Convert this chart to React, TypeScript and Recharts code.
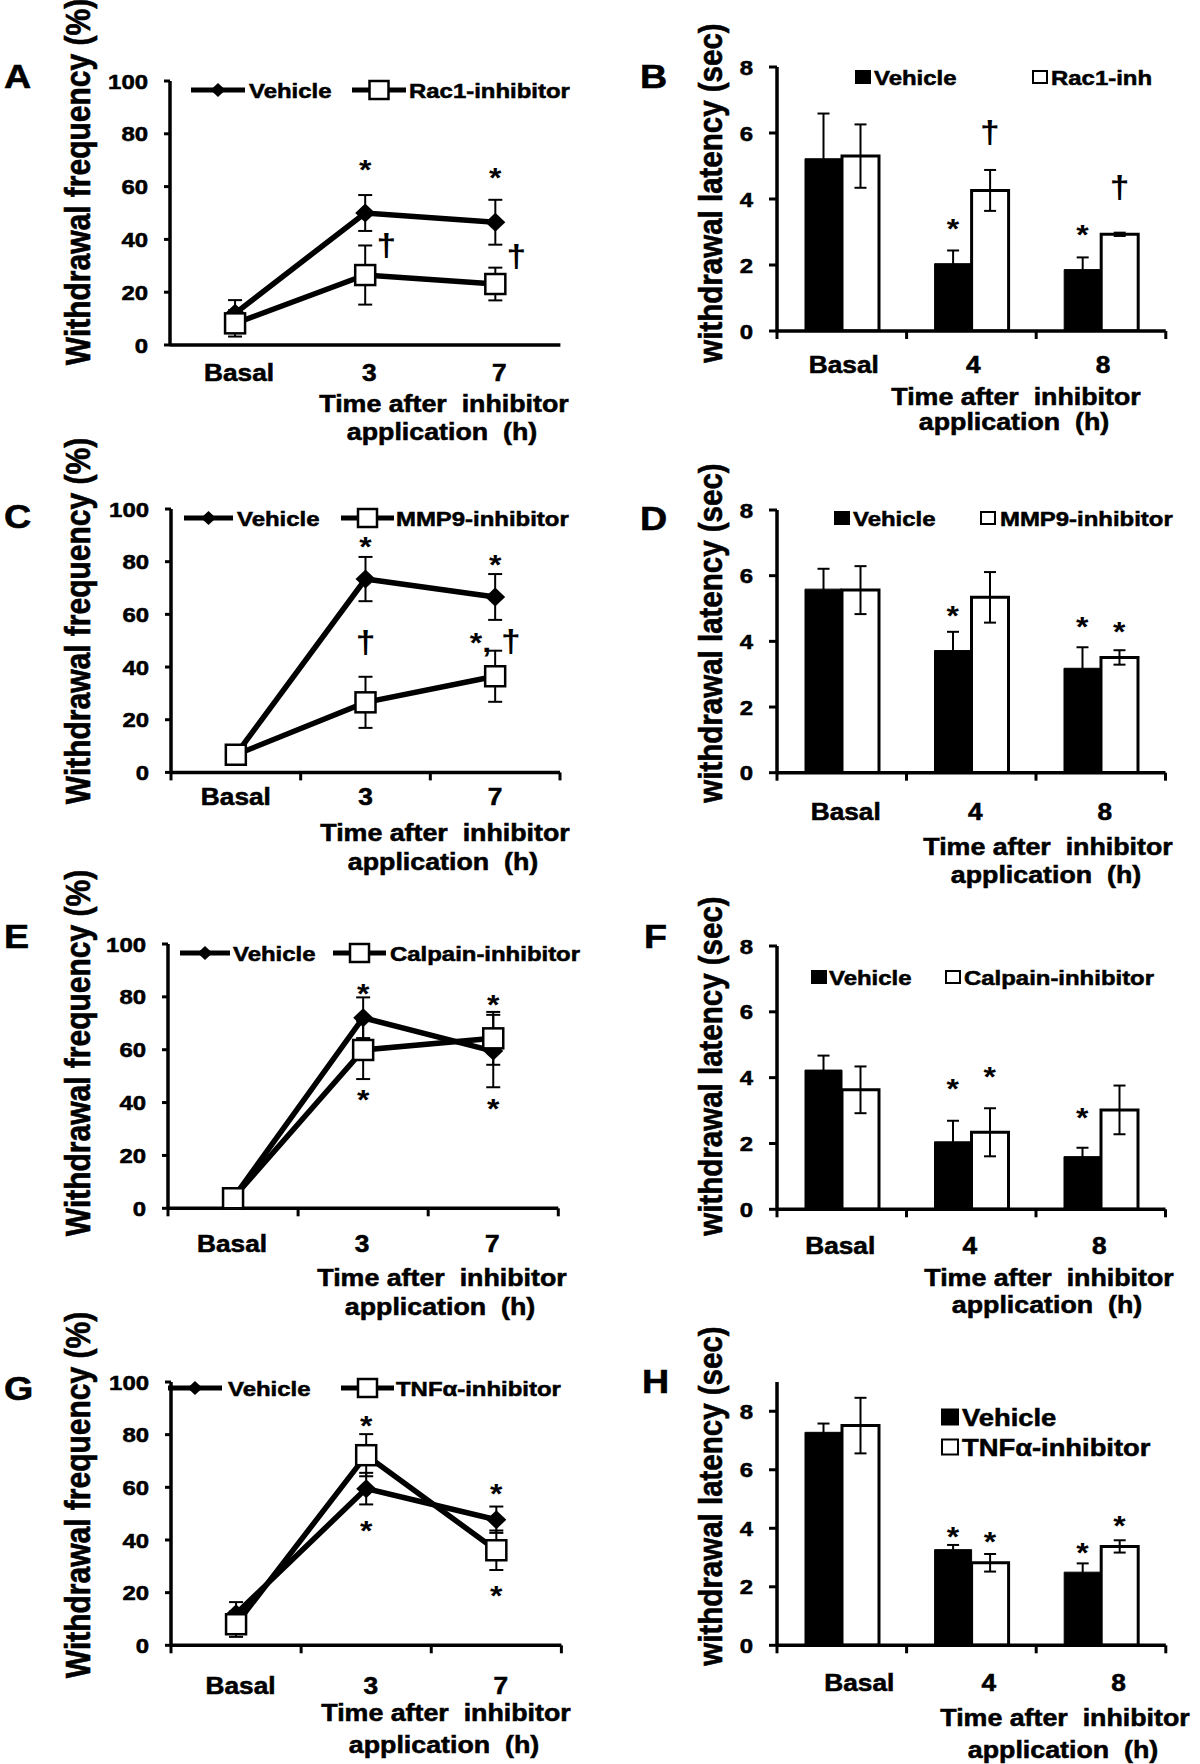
import { LineChart, Line, BarChart, Bar, XAxis, YAxis, ErrorBar, ReferenceDot } from "recharts";

const FONT = "'Liberation Sans', Arial, Helvetica, sans-serif";
const SX = 1.14; // source figure text is stretched sideways
const INK = "#000";
const heavy = { stroke: INK, strokeWidth: 0.55 };

// categories
const freqTimes = ["Basal", "3", "7"];
const latTimes = ["Basal", "4", "8"];

// legend names
const rac1Names = ["Vehicle", "Rac1-inhibitor"];
const rac1ShortNames = ["Vehicle", "Rac1-inh"];
const mmp9Names = ["Vehicle", "MMP9-inhibitor"];
const calpainNames = ["Vehicle", "Calpain-inhibitor"];
const tnfNames = ["Vehicle", "TNFα-inhibitor"];

// A - Rac1, withdrawal frequency (%)
const aVehicle = [12, 50, 46.5];
const aVehicleSem = [5, 6.8, 8.5];
const aInhib = [8.2, 26.5, 23.1];
const aInhibSem = [5, 11.2, 6.2];
const aMarks = [
  { time: "3", value: 69, mark: "*", at: "mid" },
  { time: "7", value: 66, mark: "*", at: "mid" },
  { time: "3", value: 37, mark: "†", at: "right" },
  { time: "7", value: 33, mark: "†", at: "right" },
];

// B - Rac1, withdrawal latency (sec)
const bVehicle = [5.22, 2.04, 1.86];
const bVehicleSem = [1.37, 0.4, 0.37];
const bInhib = [5.3, 4.26, 2.93];
const bInhibSem = [0.96, 0.62, 0.05];
const bMarks = [
  { time: "4", value: 3.3, mark: "*", at: "veh" },
  { time: "4", value: 5.96, mark: "†", at: "inh" },
  { time: "8", value: 3.11, mark: "*", at: "veh" },
  { time: "8", value: 4.29, mark: "†", at: "inh" },
];

// C - MMP9, withdrawal frequency (%)
const cVehicle = [6.7, 73.4, 66.6];
const cVehicleSem = [3, 8.4, 8.7];
const cInhib = [6.7, 26.6, 36.5];
const cInhibSem = [3.5, 9.7, 9.7];
const cMarks = [
  { time: "3", value: 88.4, mark: "*", at: "mid" },
  { time: "7", value: 81.4, mark: "*", at: "mid" },
  { time: "3", value: 48.5, mark: "†", at: "mid" },
  { time: "7", value: 49, mark: "*, †", at: "mid" },
];

// D - MMP9, withdrawal latency (sec)
const dVehicle = [5.59, 3.72, 3.18];
const dVehicleSem = [0.62, 0.57, 0.64];
const dInhib = [5.56, 5.34, 3.51];
const dInhibSem = [0.73, 0.77, 0.22];
const dMarks = [
  { time: "4", value: 5.0, mark: "*", at: "veh" },
  { time: "8", value: 4.65, mark: "*", at: "veh" },
  { time: "8", value: 4.5, mark: "*", at: "inh" },
];

// E - Calpain, withdrawal frequency (%)
const eVehicle = [3.8, 72.1, 59.5];
const eVehicleSem = [2, 7.7, 13.7];
const eInhib = [3.8, 59.9, 64.3];
const eInhibSem = [2, 11, 10];
const eMarks = [
  { time: "3", value: 83.8, mark: "*", at: "mid" },
  { time: "3", value: 43.5, mark: "*", at: "mid" },
  { time: "7", value: 79.5, mark: "*", at: "mid" },
  { time: "7", value: 40.3, mark: "*", at: "mid" },
];

// F - Calpain, withdrawal latency (sec)
const fVehicle = [4.23, 2.05, 1.6];
const fVehicleSem = [0.44, 0.64, 0.27];
const fInhib = [3.63, 2.34, 3.02];
const fInhibSem = [0.71, 0.73, 0.74];
const fMarks = [
  { time: "4", value: 3.88, mark: "*", at: "veh" },
  { time: "4", value: 4.23, mark: "*", at: "inh" },
  { time: "8", value: 3.0, mark: "*", at: "veh" },
];

// G - TNFa, withdrawal frequency (%)
const gVehicle = [12, 59.5, 47.7];
const gVehicleSem = [4.4, 6, 5];
const gInhib = [8, 72.2, 36.1];
const gInhibSem = [4.8, 8, 7.5];
const gMarks = [
  { time: "3", value: 86, mark: "*", at: "mid" },
  { time: "3", value: 46.2, mark: "*", at: "mid" },
  { time: "7", value: 60.1, mark: "*", at: "mid" },
  { time: "7", value: 21.5, mark: "*", at: "mid" },
];

// H - TNFa, withdrawal latency (sec)
const hVehicle = [7.28, 3.27, 2.5];
const hVehicleSem = [0.3, 0.16, 0.3];
const hInhib = [7.51, 2.82, 3.38];
const hInhibSem = [0.95, 0.3, 0.21];
const hMarks = [
  { time: "4", value: 3.93, mark: "*", at: "veh" },
  { time: "4", value: 3.76, mark: "*", at: "inh" },
  { time: "8", value: 3.41, mark: "*", at: "veh" },
  { time: "8", value: 4.33, mark: "*", at: "inh" },
];

const freqTicks = [0, 20, 40, 60, 80, 100];
const latTicks = [0, 2, 4, 6, 8];

function toRows(times, veh, vehErr, inh, inhErr) {
  return times.map((t, i) => ({ time: t, veh: veh[i], vehErr: vehErr[i], inh: inh[i], inhErr: inhErr[i] }));
}

// chart frame around the plot area
const ML = 90;
const MT = 30;
const MR = 30;
const MB = 70;
const BAR = 37;

function YTick(props) {
  const { x, y, payload } = props;
  return (
    <text transform={`translate(${x},${y}) scale(${SX},1)`} textAnchor="end" dy="0.36em"
      fontFamily={FONT} fontWeight="bold" fontSize={21} fill={INK} {...heavy}>
      {payload.value}
    </text>
  );
}

function XTick(props) {
  const { x, y, payload, index, band, count, showTicks, dx, dy } = props;
  return (
    <g>
      {showTicks && <line x1={x - band / 2} x2={x - band / 2} y1={y} y2={y + 8} stroke={INK} strokeWidth={3} />}
      {showTicks && index === count - 1 && (
        <line x1={x + band / 2} x2={x + band / 2} y1={y} y2={y + 8} stroke={INK} strokeWidth={3} />
      )}
      <text transform={`translate(${x + dx},${y + dy}) scale(${SX},1)`} textAnchor="middle" dy="0.36em"
        fontFamily={FONT} fontWeight="bold" fontSize={23} fill={INK} {...heavy}>
        {payload.value}
      </text>
    </g>
  );
}

function Mark({ cx, cy, mark }) {
  if (mark === "*") {
    return (
      <text transform={`translate(${cx},${cy + 0.575 * 28}) scale(${SX},1)`} textAnchor="middle"
        fontFamily={FONT} fontWeight="bold" fontSize={28} fill={INK}>*</text>
    );
  }
  if (mark === "†") {
    return (
      <text transform={`translate(${cx},${cy + 0.285 * 31}) scale(${SX},1)`} textAnchor="middle"
        fontFamily={FONT} fontWeight="bold" fontSize={31} fill={INK}>†</text>
    );
  }
  return (
    <text transform={`translate(${cx},${cy + 0.285 * 31}) scale(${SX},1)`} textAnchor="middle"
      fontFamily={FONT} fontWeight="bold" fontSize={31} fill={INK}>
      <tspan fontSize={28}>*,</tspan>
      <tspan>{"\u00a0†"}</tspan>
    </text>
  );
}

function diamondDot(p) {
  const { cx, cy, index } = p;
  return <path key={`d${index}`} d={`M${cx},${cy - 9.5} L${cx + 10},${cy} L${cx},${cy + 9.5} L${cx - 10},${cy} Z`} fill={INK} />;
}

function squareDot(p) {
  const { cx, cy, index } = p;
  return <rect key={`s${index}`} x={cx - 10} y={cy - 10} width={20} height={20} fill="#fff" stroke={INK} strokeWidth={2.5} />;
}

const axisStyle = { stroke: INK, strokeWidth: 3.5 };

function LinePanel({ rows, marks, box, showTicks = true, tickDx = 0, tickDy = 28 }) {
  const w = box.r - box.l;
  const h = box.b - box.t;
  const band = w / rows.length;
  return (
    <div style={{ position: "absolute", left: box.l - ML, top: box.t - MT }}>
      <LineChart width={w + ML + MR} height={h + MT + MB} data={rows} margin={{ top: MT, right: MR, bottom: 0, left: 0 }}>
        <XAxis dataKey="time" height={MB} interval={0} padding={{ left: band / 2, right: band / 2 }}
          tickLine={false} tickSize={0} tickMargin={0} axisLine={axisStyle}
          tick={(p) => <XTick {...p} band={band} count={rows.length} showTicks={showTicks} dx={tickDx} dy={tickDy} />} />
        <YAxis domain={[0, 100]} ticks={freqTicks} width={ML} allowDataOverflow interval={0}
          tickSize={6} tickMargin={16} tickLine={{ stroke: INK, strokeWidth: 3 }} axisLine={axisStyle} tick={YTick} />
        <Line dataKey="veh" type="linear" stroke={INK} strokeWidth={5.5} dot={diamondDot} activeDot={false} isAnimationActive={false}>
          <ErrorBar dataKey="vehErr" direction="y" width={7} stroke={INK} strokeWidth={2} isAnimationActive={false} />
        </Line>
        <Line dataKey="inh" type="linear" stroke={INK} strokeWidth={5.5} dot={squareDot} activeDot={false} isAnimationActive={false}>
          <ErrorBar dataKey="inhErr" direction="y" width={7} stroke={INK} strokeWidth={2} isAnimationActive={false} />
        </Line>
        {marks.map((m, i) => (
          <ReferenceDot key={i} x={m.time} y={m.value} r={0} ifOverflow="visible"
            shape={(p) => <Mark cx={p.cx + (m.at === "right" ? 21 : 0)} cy={p.cy} mark={m.mark} />} />
        ))}
      </LineChart>
    </div>
  );
}

function BarPanel({ rows, marks, box, yMax = 8, tickDx = 0, tickDy = 34 }) {
  const w = box.r - box.l;
  const h = box.b - box.t;
  const band = w / rows.length;
  return (
    <div style={{ position: "absolute", left: box.l - ML, top: box.t - MT }}>
      <BarChart width={w + ML + MR} height={h + MT + MB} data={rows} margin={{ top: MT, right: MR, bottom: 0, left: 0 }}
        barGap={0} barSize={BAR}>
        <XAxis dataKey="time" height={MB} interval={0} tickLine={false} tickSize={0} tickMargin={0} axisLine={axisStyle}
          tick={(p) => <XTick {...p} band={band} count={rows.length} showTicks dx={tickDx} dy={tickDy} />} />
        <YAxis domain={[0, yMax]} ticks={latTicks} width={ML} allowDataOverflow interval={0}
          tickSize={8} tickMargin={16} tickLine={{ stroke: INK, strokeWidth: 3 }} axisLine={axisStyle} tick={YTick} />
        <Bar dataKey="veh" fill={INK} stroke={INK} strokeWidth={1} isAnimationActive={false}>
          <ErrorBar dataKey="vehErr" direction="y" width={6} stroke={INK} strokeWidth={2} isAnimationActive={false} />
        </Bar>
        <Bar dataKey="inh" fill="#fff" stroke={INK} strokeWidth={3} isAnimationActive={false}>
          <ErrorBar dataKey="inhErr" direction="y" width={6} stroke={INK} strokeWidth={2} isAnimationActive={false} />
        </Bar>
        {marks.map((m, i) => (
          <ReferenceDot key={i} x={m.time} y={m.value} r={0} ifOverflow="visible"
            shape={(p) => <Mark cx={p.cx + (m.at === "veh" ? -BAR / 2 : BAR / 2)} cy={p.cy} mark={m.mark} />} />
        ))}
      </BarChart>
    </div>
  );
}

// overlay pieces: panel letters, axis titles, legends
function Letter({ x, y, ch }) {
  return (
    <text transform={`translate(${x},${y}) scale(${SX},1)`} fontSize={33} fontWeight="bold" {...heavy}>{ch}</text>
  );
}

function YTitle({ x, y, text, size = 30 }) {
  return (
    <text transform={`translate(${x},${y}) rotate(-90) scale(1,${SX})`} textAnchor="middle" fontSize={size}
      fontWeight="bold" {...heavy}>
      {text}
    </text>
  );
}

function XTitle({ cx, y1, y2 }) {
  const fs = 23.5;
  return (
    <g fontSize={fs} fontWeight="bold" {...heavy}>
      <text transform={`translate(${cx},${y1 + 0.36 * fs}) scale(${SX},1)`} textAnchor="middle">{"Time after\u00a0 inhibitor"}</text>
      <text transform={`translate(${cx - 2},${y2 + 0.36 * fs}) scale(${SX},1)`} textAnchor="middle">{"application\u00a0 (h)"}</text>
    </g>
  );
}

function LineLegend({ y, names, spots }) {
  return (
    <g>
      {spots.map(([x1, x2, tx], i) => {
        const mx = (x1 + x2) / 2;
        return (
          <g key={i}>
            <line x1={x1} x2={x2} y1={y} y2={y} stroke={INK} strokeWidth={5} />
            {i === 0 ? (
              <path d={`M${mx},${y - 7} L${mx + 7.5},${y} L${mx},${y + 7} L${mx - 7.5},${y} Z`} fill={INK} />
            ) : (
              <rect x={mx - 9.5} y={y - 9} width={19} height={18} fill="#fff" stroke={INK} strokeWidth={2.5} />
            )}
            <text transform={`translate(${tx},${y + 0.36 * 21}) scale(${SX},1)`} fontSize={21} fontWeight="bold" {...heavy}>
              {names[i]}
            </text>
          </g>
        );
      })}
    </g>
  );
}

function BarLegend({ names, spots, size = 21, sw = 14, sh = 12 }) {
  return (
    <g>
      {spots.map(([sx, y, tx], i) => (
        <g key={i}>
          <rect x={sx} y={y - sh / 2} width={sw} height={sh} fill={i === 0 ? INK : "#fff"} stroke={INK} strokeWidth={2} />
          <text transform={`translate(${tx},${y + 0.36 * size}) scale(${SX},1)`} fontSize={size} fontWeight="bold" {...heavy}>
            {names[i]}
          </text>
        </g>
      ))}
    </g>
  );
}

const boxA = { l: 170.3, t: 81, r: 560.7, b: 345 };
const boxB = { l: 776.8, t: 66.7, r: 1165.6, b: 330.7 };
const boxC = { l: 171, t: 509.3, r: 560, b: 772.7 };
const boxD = { l: 777, t: 510, r: 1165.5, b: 772.7 };
const boxE = { l: 168.4, t: 944, r: 558.7, b: 1208.3 };
const boxF = { l: 777, t: 946, r: 1165.5, b: 1209.3 };
const boxG = { l: 171.4, t: 1381.7, r: 561.8, b: 1645 };
const boxH = { l: 776.8, t: 1381.7, r: 1165.6, b: 1645 };

export default function App() {
  return (
    <div style={{ position: "absolute", left: 0, top: 0, width: 1200, height: 1764, background: "#fff", overflow: "hidden" }}>
      <LinePanel rows={toRows(freqTimes, aVehicle, aVehicleSem, aInhib, aInhibSem)} marks={aMarks} box={boxA}
        showTicks={false} tickDx={4} tickDy={28} />
      <BarPanel rows={toRows(latTimes, bVehicle, bVehicleSem, bInhib, bInhibSem)} marks={bMarks} box={boxB}
        tickDx={2} tickDy={34} />
      <LinePanel rows={toRows(freqTimes, cVehicle, cVehicleSem, cInhib, cInhibSem)} marks={cMarks} box={boxC}
        tickDx={0} tickDy={24} />
      <BarPanel rows={toRows(latTimes, dVehicle, dVehicleSem, dInhib, dInhibSem)} marks={dMarks} box={boxD}
        tickDx={4} tickDy={39} />
      <LinePanel rows={toRows(freqTimes, eVehicle, eVehicleSem, eInhib, eInhibSem)} marks={eMarks} box={boxE}
        tickDx={-1} tickDy={35} />
      <BarPanel rows={toRows(latTimes, fVehicle, fVehicleSem, fInhib, fInhibSem)} marks={fMarks} box={boxF}
        tickDx={-1.5} tickDy={36} />
      <LinePanel rows={toRows(freqTimes, gVehicle, gVehicleSem, gInhib, gInhibSem)} marks={gMarks} box={boxG}
        tickDx={4.5} tickDy={40} />
      <BarPanel rows={toRows(latTimes, hVehicle, hVehicleSem, hInhib, hInhibSem)} marks={hMarks} box={boxH}
        yMax={9} tickDx={17.5} tickDy={37} />

      <svg width={1200} height={1764} style={{ position: "absolute", left: 0, top: 0, pointerEvents: "none" }}
        fontFamily={FONT} fill={INK}>
        <Letter x={4} y={88} ch="A" />
        <Letter x={640} y={88} ch="B" />
        <Letter x={4} y={528} ch="C" />
        <Letter x={640} y={530} ch="D" />
        <Letter x={4} y={948} ch="E" />
        <Letter x={644} y={948} ch="F" />
        <Letter x={4} y={1400} ch="G" />
        <Letter x={642} y={1393} ch="H" />

        <YTitle x={90} y={182} text="Withdrawal frequency (%)" />
        <YTitle x={90} y={621} text="Withdrawal frequency (%)" />
        <YTitle x={90} y={1053} text="Withdrawal frequency (%)" />
        <YTitle x={90} y={1495} text="Withdrawal frequency (%)" />
        <YTitle x={722} y={193} text="withdrawal latency (sec)" size={29.5} />
        <YTitle x={722} y={633} text="withdrawal latency (sec)" size={29.5} />
        <YTitle x={722} y={1066} text="withdrawal latency (sec)" size={29.5} />
        <YTitle x={722} y={1496} text="withdrawal latency (sec)" size={29.5} />

        <XTitle cx={444} y1={404} y2={432} />
        <XTitle cx={1016} y1={397} y2={422} />
        <XTitle cx={445} y1={833} y2={862} />
        <XTitle cx={1048} y1={847} y2={875} />
        <XTitle cx={442} y1={1278} y2={1307} />
        <XTitle cx={1049} y1={1278} y2={1305} />
        <XTitle cx={446} y1={1713} y2={1745} />
        <XTitle cx={1065} y1={1718} y2={1750} />

        <LineLegend y={90} names={rac1Names} spots={[[191, 245, 249], [352, 406, 409]]} />
        <LineLegend y={518} names={mmp9Names} spots={[[184, 233, 237], [341, 394, 396]]} />
        <LineLegend y={953} names={calpainNames} spots={[[180, 230, 233], [333, 386, 390]]} />
        <LineLegend y={1388} names={tnfNames} spots={[[168, 222, 228], [341, 394, 396]]} />

        <BarLegend names={rac1ShortNames} spots={[[856, 77, 874], [1033, 77, 1051]]} />
        <BarLegend names={mmp9Names} spots={[[835, 518, 853], [981, 518, 1000]]} />
        <BarLegend names={calpainNames} spots={[[812, 977, 829], [946, 977, 964]]} />
        <BarLegend names={tnfNames} spots={[[942, 1417, 962], [942, 1447, 962]]} size={24} sw={16} sh={15} />
      </svg>
    </div>
  );
}
